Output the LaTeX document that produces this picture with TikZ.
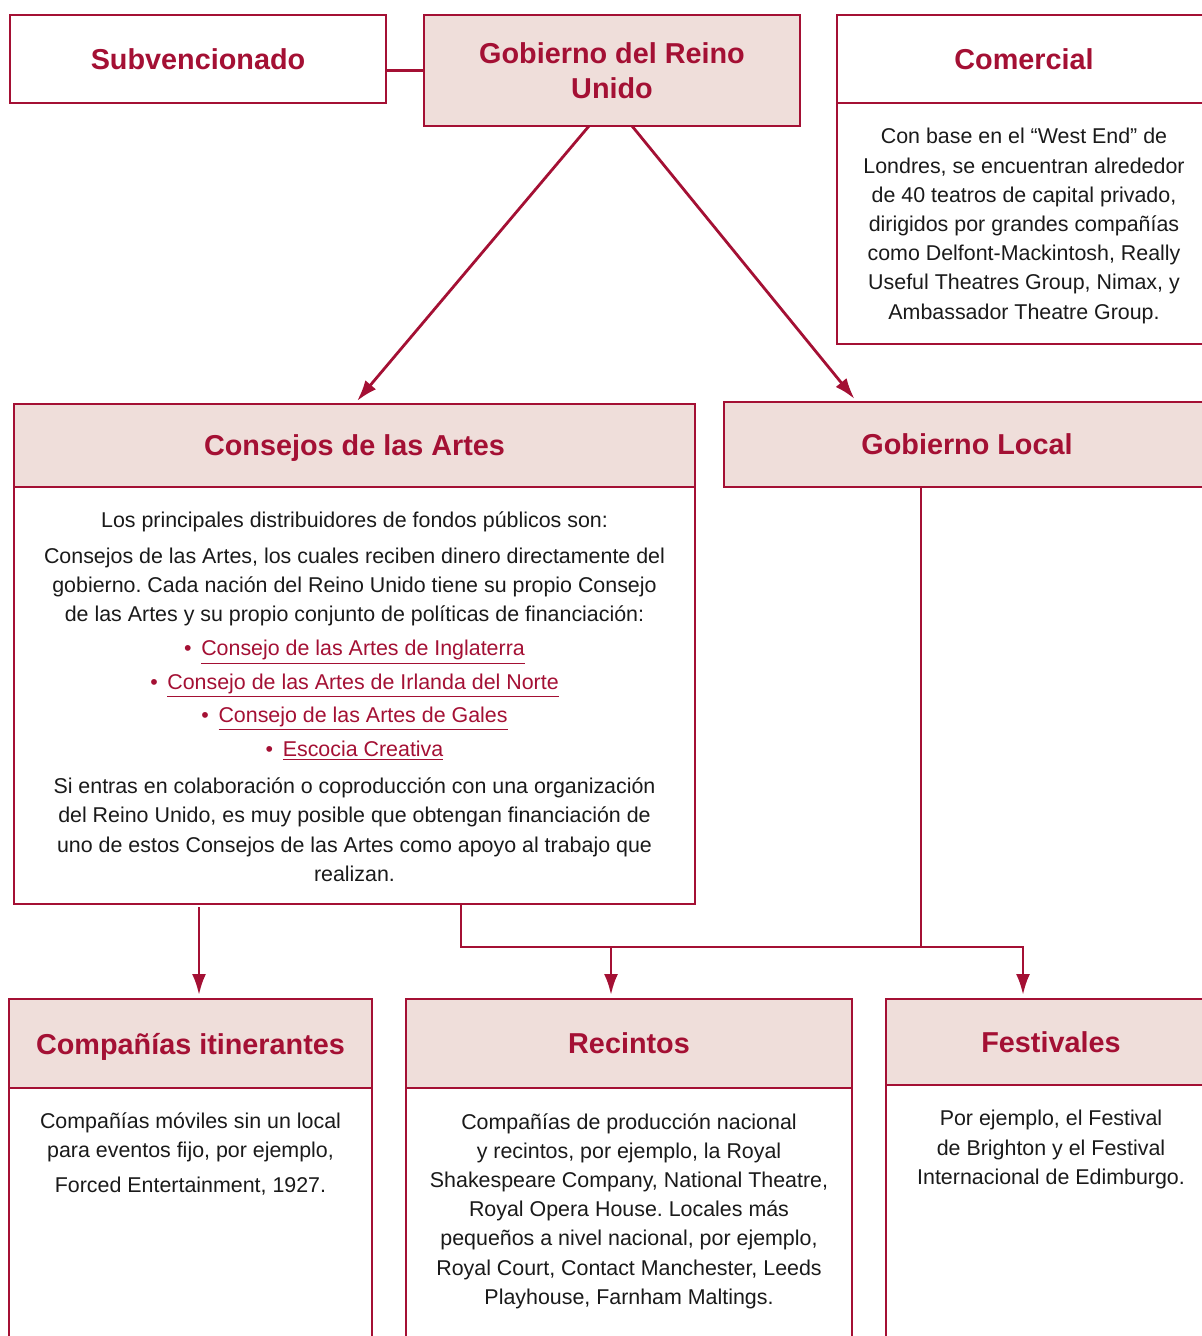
\documentclass[tikz,border=0pt]{standalone}
\usepackage{fontspec}
\setmainfont{Liberation Sans}
\usepackage{xcolor}
\usetikzlibrary{arrows.meta,positioning}

\definecolor{ukred}{RGB}{164,16,52}
\definecolor{ukpink}{RGB}{239,222,218}
\definecolor{ink}{RGB}{26,26,26}

\newcommand{\artlink}[1]{\textcolor{ukred}{\textbullet\hspace{0.45em}\underline{#1}}}
\frenchspacing

\begin{document}
\begin{tikzpicture}[x=0.5pt, y=-0.5pt,
    box/.style={draw=ukred, line width=1.4pt, inner sep=0pt, outer sep=0pt, align=center},
    headbox/.style={box, fill=ukpink, text=ukred, text depth=0pt, font=\bfseries\fontsize{14.4}{17.5}\selectfont},
    bodytext/.style={anchor=north, inner sep=0pt, align=center, text=ink, font=\fontsize{10.7}{14.6}\selectfont},
    link/.style={draw=ukred, line width=1.4pt},
    arr/.style={link, -{Latex[length=10.5pt,width=7pt]}, shorten >=2pt}]
    \useasboundingbox (0,0) rectangle (1202,1336);
    \clip (0,0) rectangle (1202,1336);

    % top row
    \node[headbox, fill=white, minimum width=188pt, minimum height=44pt] (subv) at (198,59) {Subvencionado};
    \node[headbox, minimum width=188pt, minimum height=55.5pt] (gru) at (612,70.5) {Gobierno del Reino\\Unido};
    \node[headbox, fill=white, minimum width=187pt, minimum height=44pt] (com) at (1024,59) {Comercial};
    \node[box, fill=white, anchor=north, minimum width=187pt, minimum height=120.5pt] (combody) at (com.south) {};
    \node[bodytext] (comtext) at ([yshift=-12.5pt]combody.north) {Con base en el “West End” de\\
      Londres, se encuentran alrededor\\
      de 40 teatros de capital privado,\\
      dirigidos por grandes compañías\\
      como Delfont-Mackintosh, Really\\
      Useful Theatres Group, Nimax, y\\
      Ambassador Theatre Group.};

    % middle row
    \node[headbox, minimum width=340.5pt, minimum height=41.5pt] (cons) at (354.5,445.5) {Consejos de las Artes};
    \node[box, fill=white, anchor=north, minimum width=340.5pt, minimum height=208.5pt] (cbody) at (cons.south) {};
    \node[bodytext] (constext) at ([yshift=-12pt]cbody.north) {Los principales distribuidores de fondos públicos son:\\[3.5pt]
      Consejos de las Artes, los cuales reciben dinero directamente del\\
      gobierno. Cada nación del Reino Unido tiene su propio Consejo\\
      de las Artes y su propio conjunto de políticas de financiación:\\[2.5pt]
      \artlink{Consejo de las Artes de Inglaterra}\\[2pt]
      \artlink{Consejo de las Artes de Irlanda del Norte}\\[2pt]
      \artlink{Consejo de las Artes de Gales}\\[2.5pt]
      \artlink{Escocia Creativa}\\[4pt]
      Si entras en colaboración o coproducción con una organización\\
      del Reino Unido, es muy posible que obtengan financiación de\\
      uno de estos Consejos de las Artes como apoyo al trabajo que\\
      realizan.};
    \node[headbox, minimum width=243pt, minimum height=42.5pt] (gl) at (967,444.5) {Gobierno Local};

    % bottom row
    \node[headbox, minimum width=181.5pt, minimum height=44.5pt] (comp) at (190.5,1043.5) {Compañías itinerantes};
    \node[box, fill=white, anchor=north, minimum width=181.5pt, minimum height=128.5pt] (compbody) at (comp.south) {};
    \node[bodytext] (comptext) at ([yshift=-12pt]compbody.north) {Compañías móviles sin un local\\
      para eventos fijo, por ejemplo,\\[3pt]
      Forced Entertainment, 1927.};

    \node[headbox, minimum width=223pt, minimum height=44.5pt] (rec) at (629,1043.5) {Recintos};
    \node[box, fill=white, anchor=north, minimum width=223pt, minimum height=128.5pt] (recbody) at (rec.south) {};
    \node[bodytext] (rectext) at ([yshift=-12.5pt]recbody.north) {Compañías de producción nacional\\
      y recintos, por ejemplo, la Royal\\
      Shakespeare Company, National Theatre,\\
      Royal Opera House. Locales más\\
      pequeños a nivel nacional, por ejemplo,\\
      Royal Court, Contact Manchester, Leeds\\
      Playhouse, Farnham Maltings.};

    \node[headbox, minimum width=165pt, minimum height=43pt] (fest) at (1051,1042) {Festivales};
    \node[box, fill=white, anchor=north, minimum width=165pt, minimum height=130pt] (festbody) at (fest.south) {};
    \node[bodytext] (festtext) at ([yshift=-12.5pt]festbody.north) {Por ejemplo, el Festival\\
      de Brighton y el Festival\\
      Internacional de Edimburgo.};

    % connectors
    \draw[link] (gru.west -| subv.east) -- (gru.west);
    \draw[arr] ([xshift=-11.5pt]gru.south) -- (cons.north);
    \draw[arr] ([xshift=10pt]gru.south) -- ([xshift=66.5pt]gl.north west);

    \coordinate (bus) at (1023,947);
    \coordinate (split) at ([xshift=223.5pt]cbody.south west);
    \coordinate (glout) at ([xshift=98.5pt]gl.south west);
    \coordinate (compin) at ([xshift=4.25pt]comp.north);
    \coordinate (recin) at ([xshift=-9pt]rec.north);

    \draw[link] (glout) -- (glout |- bus);
    \draw[arr, shorten <=1.5pt] (cbody.south -| compin) -- (compin);
    \draw[arr] (split) |- (bus) -- (bus |- fest.north);
    \draw[arr] (recin |- bus) -- (recin);
  \end{tikzpicture}
\end{document}
